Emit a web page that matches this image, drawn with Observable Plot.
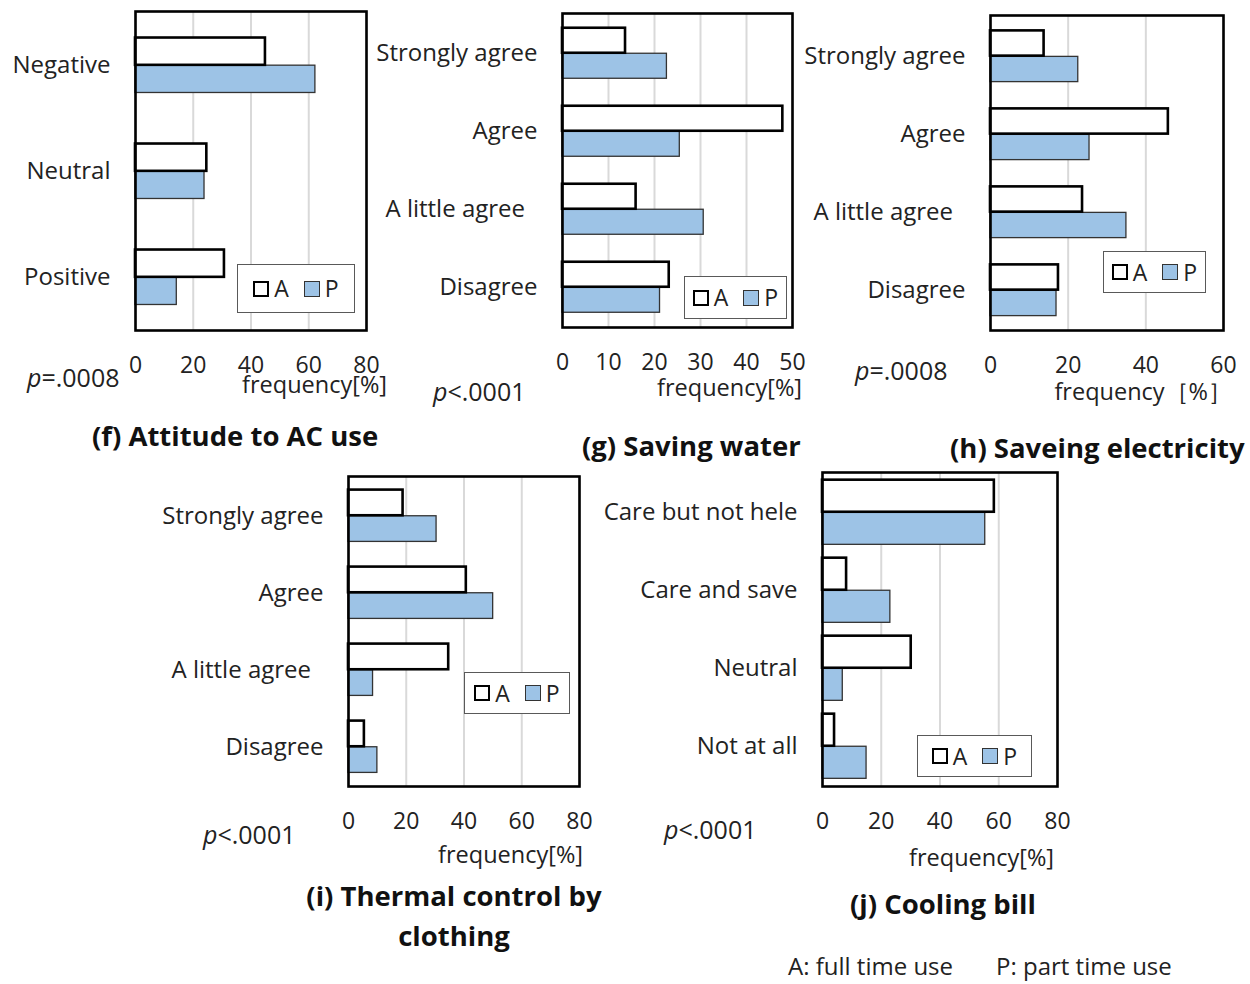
<!DOCTYPE html>
<html><head><meta charset="utf-8">
<script src="https://cdn.jsdelivr.net/npm/d3@7"></script>
<script src="https://cdn.jsdelivr.net/npm/@observablehq/plot@0.6"></script>
<style>
body{margin:0;background:#fff;}
#root{position:relative;width:1250px;height:984px;overflow:hidden;font-family:"Open Sans",sans-serif;color:#222;background:#fff;}
.abs{position:absolute;white-space:nowrap;transform:translateY(-50%);line-height:1.1;}
.title{font-weight:bold;font-size:27.5px;color:#111;}
.ctr{transform:translate(-50%,-50%);}
.pv{font-size:25px;}
.fq{font-size:23.5px;transform:translate(-100%,-50%);}
.foot{font-size:24px;line-height:1;}
.legend{position:absolute;border:1.5px solid #595959;background:#fff;display:flex;align-items:center;justify-content:center;font-size:23px;box-sizing:border-box;line-height:1;}
.sw{display:inline-block;width:16px;height:16px;box-sizing:border-box;}
</style></head>
<body><div id="root"></div>
<script>
// ---------- data ----------
const catsF = ["Negative", "Neutral", "Positive"];
const aF = [45, 24.7, 30.8];
const pF = [62.3, 23.9, 14.3];

const catsAgree = ["Strongly agree", "Agree", "A little agree", "Disagree"];
const aG = [13.7, 47.9, 16.0, 23.2];
const pG = [22.7, 25.5, 30.7, 21.2];

const aH = [13.8, 45.8, 23.7, 17.5];
const pH = [22.6, 25.5, 35.0, 17.0];

const aI = [18.9, 40.8, 34.7, 5.5];
const pI = [30.5, 50.1, 8.5, 10.0];

const catsJ = ["Care but not hele", "Care and save", "Neutral", "Not at all"];
const aJ = [58.5, 8.2, 30.2, 4.1];
const pJ = [55.4, 23.1, 6.9, 15.0];

const ticks80 = [0, 20, 40, 60, 80];
const ticks50 = [0, 10, 20, 30, 40, 50];
const ticks60 = [0, 20, 40, 60];

const series = ["A", "P"];
const seriesNames = ["A: full time use", "P: part time use"];

// ---------- drawing ----------
const root = document.getElementById("root");

function panel(cfg) {
  const {cats, a, p, ticks, L, R, T, B, group} = cfg;
  const W = R - L, H = B - T;
  const mL = 200, mR = 30, mT = 6, mB = 60;
  const bw = H / cats.length;
  const outer = (bw - bw * group) / 2;
  const rows = cats.flatMap((c, i) => [{cat: c, s: series[0], v: a[i]}, {cat: c, s: series[1], v: p[i]}]);
  const chart = Plot.plot({
    width: mL + W + mR, height: mT + H + mB,
    marginLeft: mL, marginRight: mR, marginTop: mT, marginBottom: mB,
    style: {background: "transparent", fontFamily: "Open Sans", color: "#222", overflow: "visible"},
    x: {domain: [ticks[0], ticks[ticks.length - 1]]},
    y: {domain: cats, padding: 0},
    marks: [
      Plot.gridX(ticks, {stroke: "#d9d9d9", strokeWidth: 2, strokeOpacity: 1}),
      Plot.barX(rows.filter(d => d.s === "P"), {x: "v", y: "cat", fill: "#9dc3e6", stroke: "#333", strokeWidth: 1.3, insetTop: bw / 2, insetBottom: outer}),
      Plot.barX(rows.filter(d => d.s === "A"), {x: "v", y: "cat", fill: "white", stroke: "black", strokeWidth: 2.6, insetTop: outer, insetBottom: bw / 2}),
      Plot.frame({stroke: "black", strokeWidth: 2.6}),
      Plot.axisX({ticks, tickSize: 0, tickPadding: 26, fontSize: 23, label: null}),
      Plot.axisY({tickSize: 0, tickPadding: 25, fontSize: 24, label: null,
        tickFormat: d => d === "A little agree" ? d + "\u00a0\u00a0" : d})
    ]
  });
  chart.style.position = "absolute";
  chart.style.left = (L - mL) + "px";
  chart.style.top = (T - mT) + "px";
  root.appendChild(chart);
}

function legend(x1, y1, x2, y2) {
  const d = document.createElement("div");
  d.className = "legend";
  Object.assign(d.style, {left: x1 + "px", top: y1 + "px", width: (x2 - x1) + "px", height: (y2 - y1) + "px"});
  d.innerHTML = `<span class="sw" style="border:2.5px solid #000;background:#fff"></span><span style="margin-left:5px">${series[0]}</span>` +
    `<span class="sw" style="margin-left:15px;border:1.3px solid #333;background:#9dc3e6"></span><span style="margin-left:5px">${series[1]}</span>`;
  root.appendChild(d);
}

function text(cls, html, x, y) {
  const d = document.createElement("div");
  d.className = "abs " + cls;
  d.style.left = x + "px";
  d.style.top = y + "px";
  d.innerHTML = html;
  root.appendChild(d);
}

panel({cats: catsF, a: aF, p: pF, ticks: ticks80, L: 135, R: 366, T: 11, B: 330, group: 0.52});
panel({cats: catsAgree, a: aG, p: pG, ticks: ticks50, L: 562, R: 792, T: 13, B: 327, group: 0.65});
panel({cats: catsAgree, a: aH, p: pH, ticks: ticks60, L: 990, R: 1223, T: 15, B: 330, group: 0.66});
panel({cats: catsAgree, a: aI, p: pI, ticks: ticks80, L: 348, R: 579, T: 476, B: 786, group: 0.675});
panel({cats: catsJ, a: aJ, p: pJ, ticks: ticks80, L: 822, R: 1057, T: 472, B: 786, group: 0.83});

legend(237, 264, 355, 313);
legend(684, 276, 787, 319);
legend(1103, 251, 1206, 293);
legend(464, 672, 570, 714);
legend(917, 735, 1032, 777);

// axis titles
text("fq", "frequency[%]", 387, 385);
text("fq", "frequency[%]", 802, 388);
text("fq", "frequency［%］", 1232, 392);
text("fq", "frequency[%]", 583, 855);
text("fq", "frequency[%]", 1054, 858);

// p values
text("pv", "<i>p</i>=.0008", 27, 378);
text("pv", "<i>p</i>&lt;.0001", 433, 392);
text("pv", "<i>p</i>=.0008", 855, 371);
text("pv", "<i>p</i>&lt;.0001", 203, 835);
text("pv", "<i>p</i>&lt;.0001", 664, 830);

// titles
text("title", "(f) Attitude to AC use", 92, 436);
text("title", "(g) Saving water", 582, 446);
text("title", "(h) Saveing electricity", 950, 448);
text("title ctr", "<div style='text-align:center;line-height:40px'>(i) Thermal control by<br>clothing</div>", 454, 916);
text("title", "(j) Cooling bill", 850, 904);

// footnote
text("foot", seriesNames[0], 788, 966);
text("foot", seriesNames[1], 996, 966);
</script>
</body></html>
